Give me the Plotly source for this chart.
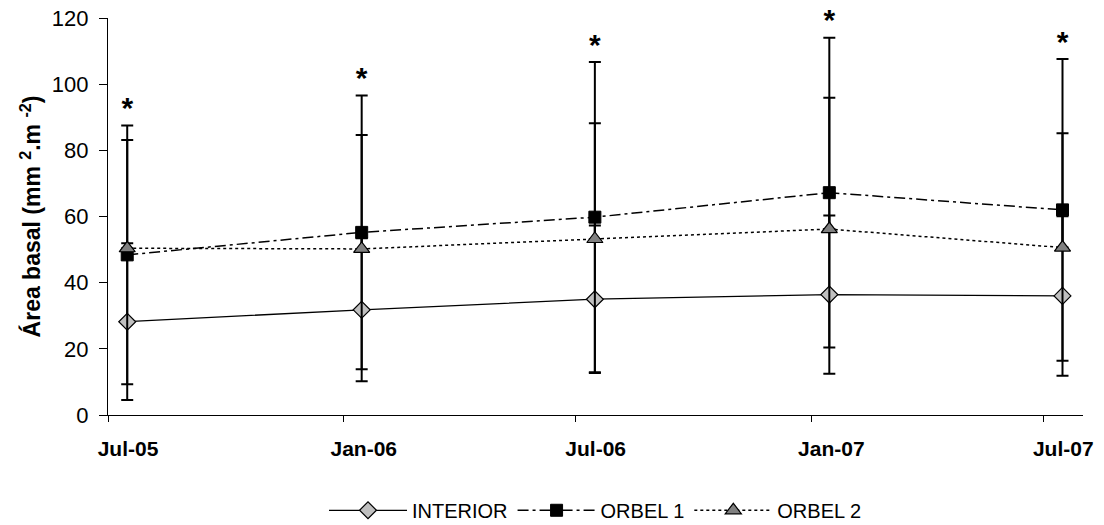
import plotly.graph_objects as go

# Sampling dates (mid-month surveys)
dates = ["2005-07-16", "2006-01-15", "2006-07-16", "2007-01-15", "2007-07-16"]

# Basal area means (mm2.m-2)
interior = [28.2, 31.8, 35.0, 36.4, 36.0]
orbel1 = [48.4, 55.2, 59.8, 67.2, 62.0]
orbel2 = [50.4, 50.2, 53.2, 56.2, 50.6]

# Error bars
interior_err = [23.7, 21.6, 22.3, 23.9, 24.1]
orbel1_err = [39.1, 41.4, 46.9, 46.8, 45.6]
orbel2_err_plus = [32.7, 34.4, 35.0, 39.7, 34.6]

# Significance marks above each date
signif = ["*", "*", "*", "*", "*"]

FONT = "Liberation Sans, Arial, sans-serif"

fig = go.Figure()

fig.add_trace(go.Scatter(
    x=dates, y=interior, name="INTERIOR", mode="lines+markers",
    line=dict(color="black", width=1.3),
    marker=dict(symbol="diamond", size=13, color="#c0c0c0",
                line=dict(color="black", width=1.2)),
    error_y=dict(type="data", array=interior_err, symmetric=True,
                 color="black", thickness=2, width=6),
))

fig.add_trace(go.Scatter(
    x=dates, y=orbel1, name="ORBEL 1", mode="lines+markers",
    line=dict(color="black", width=1.5, dash="11px,4px,3px,4px"),
    marker=dict(symbol="square", size=12, color="black",
                line=dict(color="black", width=1)),
    error_y=dict(type="data", array=orbel1_err, symmetric=True,
                 color="black", thickness=2, width=6),
))

fig.add_trace(go.Scatter(
    x=dates, y=orbel2, name="ORBEL 2", mode="lines+markers",
    line=dict(color="black", width=1.5, dash="3px,3px"),
    marker=dict(symbol="triangle-up", size=14, color="#808080",
                line=dict(color="black", width=1.2)),
    error_y=dict(type="data", array=orbel2_err_plus,
                 arrayminus=[0] * len(orbel2_err_plus), symmetric=False,
                 color="black", thickness=2, width=6),
))

# Asterisks sitting on top of the highest error bar
tops = [m + e for m, e in zip(orbel1, orbel1_err)]
fig.add_trace(go.Scatter(
    x=dates, y=tops, mode="text", text=signif, textposition="top center",
    textfont=dict(family=FONT, size=30, color="black", weight="bold"),
    showlegend=False, hoverinfo="skip", cliponaxis=False,
))

fig.update_layout(
    width=1104, height=525,
    margin=dict(l=108, r=21, t=18, b=110, autoexpand=False),
    paper_bgcolor="white", plot_bgcolor="white",
    font=dict(family=FONT, color="black"),
    showlegend=True,
    legend=dict(
        orientation="h", x=0.5, xanchor="center", y=-0.24, yanchor="middle",
        font=dict(family=FONT, size=20, color="black"),
        itemwidth=78, bgcolor="rgba(0,0,0,0)",
    ),
)

fig.update_xaxes(
    type="date", range=["2005-07-01", "2007-08-01"],
    tick0="2005-07-01", dtick="M6", tickformat="%b-%y",
    ticks="outside", ticklen=6, tickwidth=1.3, tickcolor="black",
    ticklabelshift=20, ticklabelstandoff=9,
    tickfont=dict(family=FONT, size=21, color="black", weight="bold"),
    showline=True, linecolor="black", linewidth=1.3,
    showgrid=False, zeroline=False,
)

fig.update_yaxes(
    range=[0, 120], tick0=0, dtick=20,
    ticks="outside", ticklen=8, tickwidth=1.3, tickcolor="black",
    ticklabelstandoff=6,
    tickfont=dict(family=FONT, size=22, color="black"),
    showline=True, linecolor="black", linewidth=1.3,
    showgrid=False, zeroline=False,
    title=dict(text="Área basal (mm <sup>2</sup>.m <sup>-2</sup>)",
               font=dict(family=FONT, size=23, color="black", weight="bold"),
               standoff=4),
)

fig.write_html("out.html")
